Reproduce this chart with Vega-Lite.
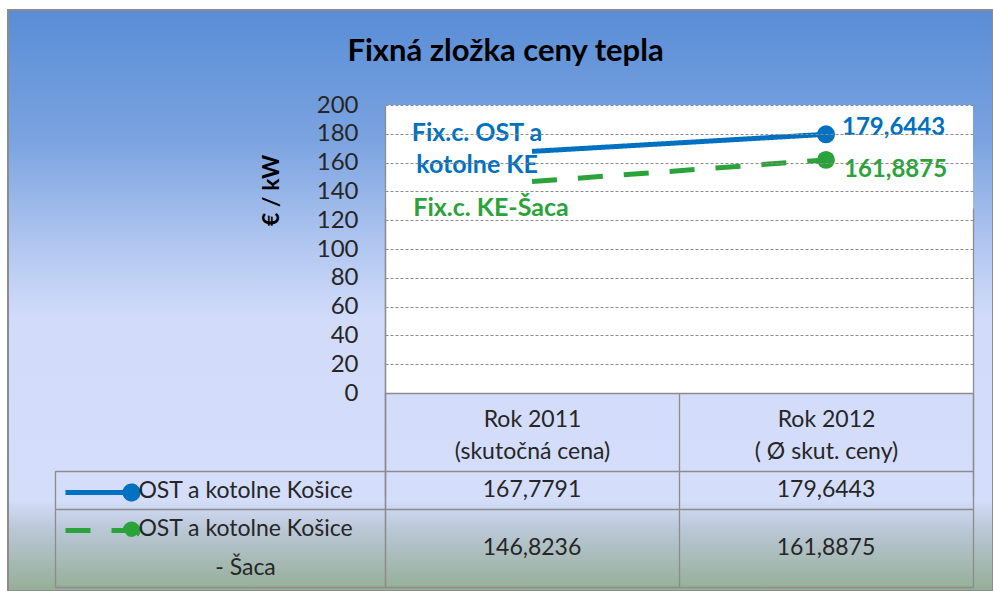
{
  "$schema": "https://vega.github.io/schema/vega-lite/v6.json",
  "width": 985,
  "height": 581,
  "autosize": {"type": "none"},
  "padding": {"left": 8, "top": 10, "right": 0, "bottom": 0},
  "background": "#ffffff",
  "config": {
    "font": "Lato",
    "view": {
      "fill": {
        "gradient": "linear", "x1": 0, "y1": 0, "x2": 0, "y2": 1,
        "stops": [
          {"offset": 0, "color": "#598DD6"},
          {"offset": 0.224, "color": "#7BA3E0"},
          {"offset": 0.413, "color": "#B3C8F1"},
          {"offset": 0.534, "color": "#D2DCFA"},
          {"offset": 0.843, "color": "#D4DDFA"},
          {"offset": 0.895, "color": "#BAC7D6"},
          {"offset": 1, "color": "#94AE96"}
        ]
      },
      "stroke": "#8c8c8c",
      "strokeWidth": 2
    },
    "locale": {"number": {"decimal": ",", "thousands": " ", "grouping": [3], "currency": ["", " €"]}},
    "axis": {"labelFont": "Lato", "titleFont": "Lato"}
  },
  "title": {
    "text": "Fixná zložka ceny tepla",
    "fontSize": 31, "fontWeight": "bold", "color": "#000000", "font": "Lato",
    "anchor": "middle", "frame": "group", "offset": -82, "baseline": "alphabetic", "dx": 5
  },
  "datasets": {
    "hodnoty": [
      {"rok": "Rok 2011", "seria": "OST a kotolne Košice", "hodnota": 167.7791, "popis": "Fix.c. OST a\nkotolne KE"},
      {"rok": "Rok 2012", "seria": "OST a kotolne Košice", "hodnota": 179.6443, "popis": "Fix.c. OST a\nkotolne KE"},
      {"rok": "Rok 2011", "seria": "OST a kotolne Košice - Šaca", "hodnota": 146.8236, "popis": "Fix.c. KE-Šaca"},
      {"rok": "Rok 2012", "seria": "OST a kotolne Košice - Šaca", "hodnota": 161.8875, "popis": "Fix.c. KE-Šaca"}
    ]
  },
  "layer": [
    {
      "data": {"name": "hodnoty"},
      "layer": [
        {
          "transform": [{"filter": "datum.seria === 'OST a kotolne Košice'"}],
          "mark": {"type": "rect", "fill": "#ffffff"},
          "encoding": {
            "x": {
              "field": "rok", "type": "nominal",
              "scale": {"domain": ["Rok 2011", "Rok 2012"], "range": [377, 965], "paddingInner": 0, "paddingOuter": 0},
              "axis": {
                "orient": "bottom", "offset": -198, "title": null, "zindex": 1,
                "domain": true, "domainColor": "#8c8c8c", "domainWidth": 1.3,
                "ticks": true, "tickBand": "extent", "tickSize": 194, "tickColor": "#8c8c8c", "tickWidth": 1.3,
                "labelAngle": 0, "labelFontSize": 23, "labelColor": "#262626", "labelBaseline": "top",
                "labelLineHeight": 32, "labelPadding": -179, "labelLimit": 0,
                "labelExpr": "datum.value === 'Rok 2011' ? ['Rok 2011', '(skutočná cena)'] : (datum.value === 'Rok 2012' ? ['Rok 2012', '( Ø skut. ceny)'] : '')",
                "grid": true,
                "gridColor": {"condition": {"test": "datum.value === 'Rok 2011'", "value": "transparent"}, "value": "#8c8c8c"},
                "gridWidth": 1.3, "gridDash": []
              }
            },
            "y": {
              "datum": 200, "type": "quantitative",
              "scale": {"domain": [0, 200], "range": [383, 95], "nice": false, "zero": false},
              "axis": {
                "orient": "left", "offset": -377, "zindex": 1,
                "values": [0, 20, 40, 60, 80, 100, 120, 140, 160, 180, 200],
                "title": "€ / kW", "titleFontSize": 23, "titleFontWeight": "bold", "titleColor": "#000000",
                "titleAngle": -90, "titleX": -102, "titleY": 180, "titleAlign": "center", "titleBaseline": "bottom",
                "domain": true, "domainColor": "#8c8c8c", "domainWidth": 1.3,
                "ticks": false, "tickSize": 0,
                "labelFontSize": 24, "labelColor": "#262626", "labelPadding": 27, "labelAlign": "right",
                "labelBaseline": "middle", "labelOverlap": false,
                "grid": true, "gridColor": "#8c8c8c", "gridDash": [3, 2], "gridWidth": 1
              }
            },
            "y2": {"datum": 0}
          }
        },
        {
          "mark": {"type": "line", "strokeWidth": 5, "strokeCap": "butt"},
          "encoding": {
            "x": {"field": "rok", "type": "nominal"},
            "y": {"field": "hodnota", "type": "quantitative"},
            "color": {
              "field": "seria", "type": "nominal",
              "scale": {"domain": ["OST a kotolne Košice", "OST a kotolne Košice - Šaca"], "range": ["#0070C0", "#2AA33A"]},
              "legend": {
                "title": null, "orient": "none", "legendX": 116, "legendY": 475, "direction": "vertical",
                "symbolType": "M-13.2,0L0,0M-1.3,0A1.3,1.3,0,1,1,1.3,0A1.3,1.3,0,1,1,-1.3,0Z",
                "symbolSize": 100, "symbolStrokeWidth": 5, "labelExpr": "''", "labelFontSize": 10,
                "rowPadding": 5, "padding": 0,
                "encode": {"symbols": {"update": {"fill": {"scale": "color", "field": "value"}, "stroke": {"scale": "color", "field": "value"}, "opacity": {"value": 1}}}}
              }
            },
            "strokeDash": {
              "field": "seria", "type": "nominal",
              "scale": {"domain": ["OST a kotolne Košice", "OST a kotolne Košice - Šaca"], "range": [[1, 0], [25, 21]]},
              "legend": {
                "title": null, "orient": "none", "legendX": 116, "legendY": 475, "direction": "vertical",
                "symbolType": "M-13.2,0L0,0M-1.3,0A1.3,1.3,0,1,1,1.3,0A1.3,1.3,0,1,1,-1.3,0Z",
                "symbolSize": 100, "symbolStrokeWidth": 5, "labelExpr": "''", "labelFontSize": 10,
                "rowPadding": 5, "padding": 0,
                "encode": {"symbols": {"update": {"fill": {"scale": "color", "field": "value"}, "stroke": {"scale": "color", "field": "value"}, "opacity": {"value": 1}}}}
              }
            }
          }
        },
        {
          "transform": [{"filter": "datum.rok === 'Rok 2012'"}],
          "mark": {"type": "point", "filled": true, "size": 320, "opacity": 1},
          "encoding": {
            "x": {"field": "rok", "type": "nominal"},
            "y": {"field": "hodnota", "type": "quantitative"},
            "color": {"field": "seria", "type": "nominal", "legend": null}
          }
        },
        {
          "transform": [{"filter": "datum.rok === 'Rok 2011' && datum.seria === 'OST a kotolne Košice'"}],
          "mark": {"type": "text", "fontSize": 25, "fontWeight": "bold", "align": "center", "baseline": "middle", "dx": -55, "dy": -18, "lineBreak": "\n", "lineHeight": 32},
          "encoding": {
            "x": {"field": "rok", "type": "nominal"},
            "y": {"field": "hodnota", "type": "quantitative"},
            "text": {"field": "popis"},
            "color": {"field": "seria", "type": "nominal", "legend": null}
          }
        },
        {
          "transform": [{"filter": "datum.rok === 'Rok 2011' && datum.seria === 'OST a kotolne Košice - Šaca'"}],
          "mark": {"type": "text", "fontSize": 25, "fontWeight": "bold", "align": "center", "baseline": "middle", "dx": -41, "dy": 26},
          "encoding": {
            "x": {"field": "rok", "type": "nominal"},
            "y": {"field": "hodnota", "type": "quantitative"},
            "text": {"field": "popis"},
            "color": {"field": "seria", "type": "nominal", "legend": null}
          }
        },
        {
          "transform": [{"filter": "datum.rok === 'Rok 2012' && datum.seria === 'OST a kotolne Košice'"}],
          "mark": {"type": "text", "fontSize": 24, "fontWeight": "bold", "align": "left", "baseline": "middle", "dx": 16, "dy": -6},
          "encoding": {
            "x": {"field": "rok", "type": "nominal"},
            "y": {"field": "hodnota", "type": "quantitative"},
            "text": {"field": "hodnota", "type": "quantitative", "format": ".4f"},
            "color": {"field": "seria", "type": "nominal", "legend": null}
          }
        },
        {
          "transform": [{"filter": "datum.rok === 'Rok 2012' && datum.seria === 'OST a kotolne Košice - Šaca'"}],
          "mark": {"type": "text", "fontSize": 24, "fontWeight": "bold", "align": "left", "baseline": "middle", "dx": 18, "dy": 10},
          "encoding": {
            "x": {"field": "rok", "type": "nominal"},
            "y": {"field": "hodnota", "type": "quantitative"},
            "text": {"field": "hodnota", "type": "quantitative", "format": ".4f"},
            "color": {"field": "seria", "type": "nominal", "legend": null}
          }
        }
      ]
    },
    {
      "data": {"name": "hodnoty"},
      "transform": [{"filter": "datum.seria === 'OST a kotolne Košice'"}],
      "mark": {"type": "text", "fontSize": 23, "color": "#262626", "align": "center", "baseline": "middle"},
      "encoding": {
        "x": {"field": "rok", "type": "nominal"},
        "y": {
          "field": "seria", "type": "nominal",
          "scale": {"domain": ["hlavička 1", "hlavička 2", "OST a kotolne Košice", "OST a kotolne Košice - Šaca", "- Šaca"], "range": [383, 577], "paddingInner": 0, "paddingOuter": 0},
          "axis": {
            "orient": "left", "offset": -377, "title": null, "labels": false, "zindex": 1,
            "domain": true, "domainColor": "#8c8c8c", "domainWidth": 1.3,
            "ticks": true, "tickBand": "extent", "tickSize": 330, "tickWidth": 1.3,
            "tickColor": {"condition": {"test": "indexof(['hlavička 2','OST a kotolne Košice','- Šaca'], datum.value) >= 0", "value": "#8c8c8c"}, "value": "transparent"},
            "grid": true, "gridWidth": 1.3, "gridDash": [],
            "gridColor": {"condition": {"test": "indexof(['hlavička 2','OST a kotolne Košice','- Šaca'], datum.value) >= 0", "value": "#8c8c8c"}, "value": "transparent"}
          }
        },
        "text": {"field": "hodnota", "type": "quantitative", "format": ".4f"}
      }
    },
    {
      "data": {"name": "hodnoty"},
      "transform": [{"filter": "datum.seria === 'OST a kotolne Košice - Šaca'"}],
      "mark": {"type": "text", "fontSize": 23, "color": "#262626", "align": "center", "baseline": "middle", "dy": 19.4},
      "encoding": {
        "x": {"field": "rok", "type": "nominal"},
        "y": {
          "field": "seria", "type": "nominal",
          "scale": {"domain": ["hlavička 1", "hlavička 2", "OST a kotolne Košice", "OST a kotolne Košice - Šaca", "- Šaca"], "range": [383, 577], "paddingInner": 0, "paddingOuter": 0},
          "axis": {
            "orient": "right", "offset": -938, "title": null, "zindex": 1,
            "domain": true, "domainColor": "#8c8c8c", "domainWidth": 1.3, "domainDash": [0, 77.6, 400, 0],
            "ticks": false, "tickSize": 0, "grid": false,
            "labelExpr": "datum.value === 'OST a kotolne Košice - Šaca' ? 'OST a kotolne Košice' : (indexof(['hlavička 1','hlavička 2'], datum.value) >= 0 ? '' : datum.value)",
            "labelAlign": "center", "labelBaseline": "middle", "labelPadding": 190, "labelFontSize": 23,
            "labelColor": "#262626", "labelLimit": 0
          }
        },
        "text": {"field": "hodnota", "type": "quantitative", "format": ".4f"}
      }
    }
  ],
  "resolve": {"scale": {"y": "independent"}}
}
